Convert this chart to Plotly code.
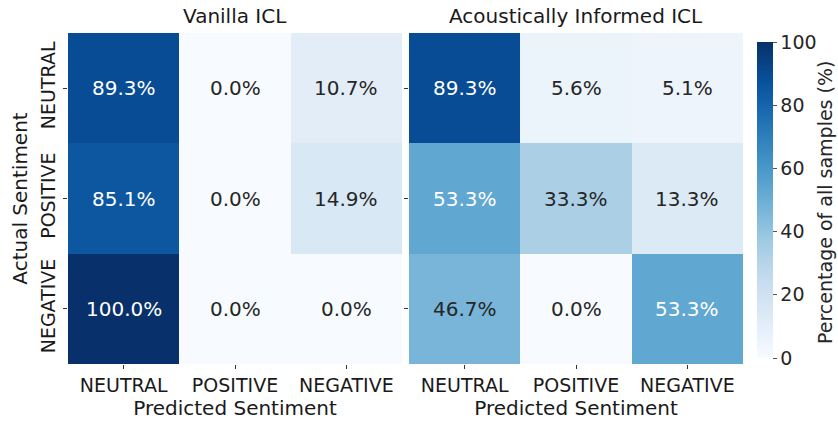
import plotly.graph_objects as go

classes = ["NEUTRAL", "POSITIVE", "NEGATIVE"]
vanilla = [[89.3, 0.0, 10.7],
           [85.1, 0.0, 14.9],
           [100.0, 0.0, 0.0]]
acoustic = [[89.3, 5.6, 5.1],
            [53.3, 33.3, 13.3],
            [46.7, 0.0, 53.3]]
titles = ["Vanilla ICL", "Acoustically Informed ICL"]
cbar_title = "Percentage of all samples (%)"
cbar_ticks = [0, 20, 40, 60, 80, 100]

blues = [[0.0, "#f7fbff"], [0.125, "#deebf7"], [0.25, "#c6dbef"], [0.375, "#9ecae1"],
         [0.5, "#6baed6"], [0.625, "#4292c6"], [0.75, "#2171b5"], [0.875, "#08519c"],
         [1.0, "#08306b"]]

FONT = "DejaVu Sans"
fig = go.Figure()

W, H = 838, 421
ml, mr, mt, mb = 68, 95, 33, 57
pw = W - ml - mr
ph = H - mt - mb
dom1 = [0, (402 - ml) / pw]
dom2 = [(409 - ml) / pw, 1]

for i, (mat, ttl) in enumerate([(vanilla, titles[0]), (acoustic, titles[1])]):
    xa = "x" if i == 0 else "x2"
    ya = "y" if i == 0 else "y2"
    fig.add_trace(go.Heatmap(
        z=mat, x=classes, y=classes, colorscale=blues, zmin=0, zmax=100,
        xaxis=xa, yaxis=ya, showscale=(i == 1),
        colorbar=dict(
            x=(757 - ml) / pw, xanchor="left", xpad=0,
            y=(364 - 200) / ph, yanchor="middle", len=(358 - 42) / ph, ypad=0,
            thickness=16, outlinewidth=0, tickvals=cbar_ticks,
            ticks="outside", ticklen=4, tickcolor="#555",
            tickfont=dict(family=FONT, size=19, color="#262626"),
        ),
        hoverinfo="skip",
    ))
    for r, row in enumerate(mat):
        for c, v in enumerate(row):
            fig.add_annotation(
                x=classes[c], y=classes[r], xref=xa, yref=ya,
                text=f"{v:.1f}%", showarrow=False,
                font=dict(family=FONT, size=20, color="white" if v > 50 else "#262626"),
            )

axis_common = dict(type="category", showgrid=False, zeroline=False, showline=False,
                   automargin=False,
                   ticks="outside", ticklen=4, tickcolor="#333",
                   tickfont=dict(family=FONT, size=19, color="#1a1a1a"))

fig.update_layout(
    width=W, height=H, margin=dict(l=ml, r=mr, t=mt, b=mb, autoexpand=False),
    paper_bgcolor="white", plot_bgcolor="white",
    font=dict(family=FONT, color="#1a1a1a"),
    xaxis=dict(domain=dom1, anchor="y", **axis_common,
               title=dict(text="Predicted Sentiment", standoff=2,
                          font=dict(family=FONT, size=20))),
    xaxis2=dict(domain=dom2, anchor="y2", **axis_common,
                title=dict(text="Predicted Sentiment", standoff=2,
                           font=dict(family=FONT, size=20))),
    yaxis=dict(domain=[0, 1], anchor="x", autorange="reversed", tickangle=-90,
               **axis_common,
               title=dict(text="Actual Sentiment", standoff=4,
                          font=dict(family=FONT, size=20))),
    yaxis2=dict(domain=[0, 1], anchor="x2", autorange="reversed", showticklabels=False,
                **axis_common),
)

for i, ttl in enumerate(titles):
    dom = dom1 if i == 0 else dom2
    fig.add_annotation(x=(dom[0] + dom[1]) / 2, y=1, xref="paper", yref="paper",
                       xanchor="center", yanchor="bottom", yshift=3, text=ttl,
                       showarrow=False,
                       font=dict(family=FONT, size=20, color="#1a1a1a"))

fig.add_annotation(x=(825 - ml) / pw, y=(364 - 203) / ph, xref="paper", yref="paper",
                   xanchor="center", yanchor="middle", textangle=-90, text=cbar_title,
                   showarrow=False, font=dict(family=FONT, size=19, color="#262626"))

fig.write_html("out.html", config={"displayModeBar": False},
               post_script="document.body.style.margin='0';document.body.style.padding='0';")
